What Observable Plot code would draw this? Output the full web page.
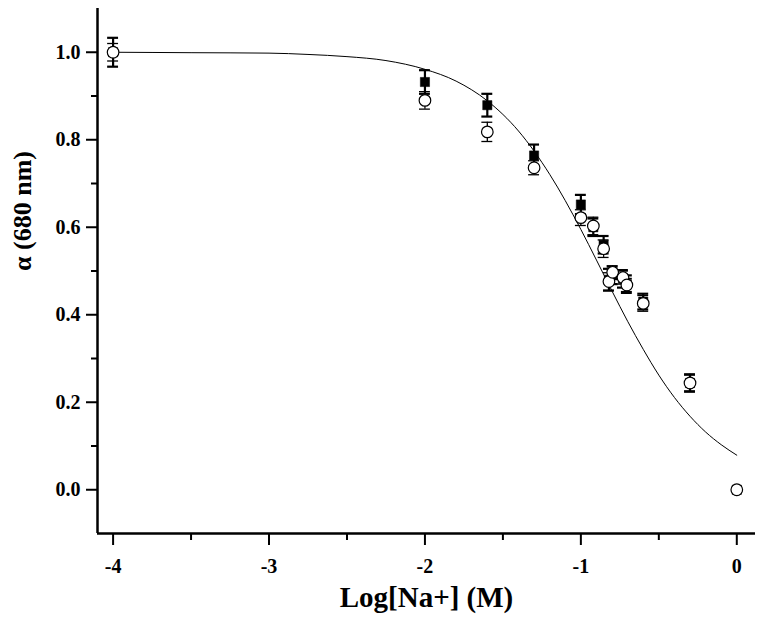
<!DOCTYPE html>
<html>
<head>
<meta charset="utf-8">
<script src="https://cdn.jsdelivr.net/npm/d3@7"></script>
<script src="https://cdn.jsdelivr.net/npm/@observablehq/plot@0.6"></script>
<style>
  html, body { margin: 0; padding: 0; background: #fff; }
  #chart svg { display: block; }
</style>
</head>
<body>
<div id="chart"></div>
<script>
// Log[Na+] positions
const xVals = [-4, -2, -1.6, -1.3, -1, -0.92, -0.854, -0.82, -0.796, -0.73, -0.705, -0.6, -0.3, 0];
// open circles series
const circleY = [1.0, 0.890, 0.818, 0.736, 0.622, 0.603, 0.551, 0.476, 0.497, 0.485, 0.468, 0.426, 0.244, 0.0];
const circleErr = [0.02, 0.02, 0.022, 0.016, 0.018, 0.02, 0.02, 0.02, 0.015, 0.015, 0.015, 0.018, 0.018, 0.004];
// filled squares series
const squareY = [1.0, 0.932, 0.879, 0.764, 0.652, 0.600, 0.560, 0.480, 0.490, 0.482, 0.470, 0.430, 0.244, 0.0];
const squareErr = [0.033, 0.027, 0.026, 0.025, 0.022, 0.02, 0.02, 0.025, 0.02, 0.02, 0.02, 0.018, 0.02, 0.004];
// fitted curve
const fitX = [-4, -3.5, -3, -2.75, -2.5, -2.25, -2, -1.8, -1.6, -1.4, -1.2, -1.0, -0.9, -0.8, -0.7, -0.6, -0.5, -0.4, -0.3, -0.2, -0.1, 0];
const fitY = [1.0, 0.999, 0.998, 0.995, 0.990, 0.981, 0.961, 0.934, 0.889, 0.820, 0.721, 0.595, 0.525, 0.454, 0.385, 0.321, 0.262, 0.211, 0.168, 0.132, 0.103, 0.079];
// axes
const xDomain = [-4.1, 0.12];
const yDomain = [-0.1, 1.1];
const xTicks = [-4, -3, -2, -1, 0];
const xMinor = [-3.5, -2.5, -1.5, -0.5];
const yTicks = [0, 0.2, 0.4, 0.6, 0.8, 1.0];
const yMinor = [0.1, 0.3, 0.5, 0.7, 0.9];
const xTitle = "Log[Na+] (M)";
const yTitle = "α (680 nm)";

const circles = xVals.map((x, i) => ({x, y: circleY[i], e: circleErr[i]}));
const squares = xVals.map((x, i) => ({x, y: squareY[i], e: squareErr[i]}));
const fit = fitX.map((x, i) => ({x, y: fitY[i]}));
const capHalf = 0.035;

const font = "'Liberation Serif', 'Times New Roman', serif";

const errMarks = (data, sw) => [
  Plot.ruleX(data.filter(d => d.e > 0.005), {x: "x", y1: d => d.y - d.e, y2: d => d.y + d.e, stroke: "black", strokeWidth: sw}),
  Plot.ruleY(data.filter(d => d.e > 0.005), {y: d => d.y + d.e, x1: d => d.x - capHalf, x2: d => d.x + capHalf, stroke: "black", strokeWidth: sw}),
  Plot.ruleY(data.filter(d => d.e > 0.005), {y: d => d.y - d.e, x1: d => d.x - capHalf, x2: d => d.x + capHalf, stroke: "black", strokeWidth: sw})
];

const chart = Plot.plot({
  width: 759,
  height: 629,
  marginLeft: 97,
  marginRight: 4,
  marginTop: 8,
  marginBottom: 96,
  x: {domain: xDomain},
  y: {domain: yDomain},
  style: {fontFamily: font, background: "white", color: "black"},
  marks: [
    Plot.line(fit, {x: "x", y: "y", stroke: "black", strokeWidth: 1, curve: "monotone-x"}),
    ...errMarks(squares, 2.2),
    Plot.dot(squares, {x: "x", y: "y", symbol: "square", r: 5.2, fill: "black", stroke: "black", strokeWidth: 0.5}),
    ...errMarks(circles, 1.3),
    Plot.dot(circles, {x: "x", y: "y", symbol: "circle", r: 5.8, fill: "white", stroke: "black", strokeWidth: 1.2}),
    Plot.axisX({ticks: xTicks, tickSize: 12, tickPadding: 13, strokeWidth: 2, fontSize: 20, fontWeight: "bold", tickFormat: d => String(d), label: null}),
    Plot.axisX({ticks: xMinor, tickSize: 7, strokeWidth: 2, text: null, label: null}),
    Plot.axisY({ticks: yTicks, tickSize: 11, tickPadding: 6, strokeWidth: 2, fontSize: 20, fontWeight: "bold", tickFormat: d => d.toFixed(1), label: null}),
    Plot.axisY({ticks: yMinor, tickSize: 6, strokeWidth: 2, text: null, label: null}),
    Plot.ruleX([xDomain[0]], {stroke: "black", strokeWidth: 2.5}),
    Plot.ruleY([yDomain[0]], {stroke: "black", strokeWidth: 2.5}),
    Plot.text([xTitle], {frameAnchor: "bottom", dy: 73, text: d => d, fontSize: 29, fontWeight: "bold", fill: "black"}),
    Plot.text([yTitle], {frameAnchor: "left", dx: -75, rotate: -90, text: d => d, fontSize: 26, fontWeight: "bold", fill: "black"})
  ]
});
document.getElementById("chart").appendChild(chart);
</script>
</body>
</html>
